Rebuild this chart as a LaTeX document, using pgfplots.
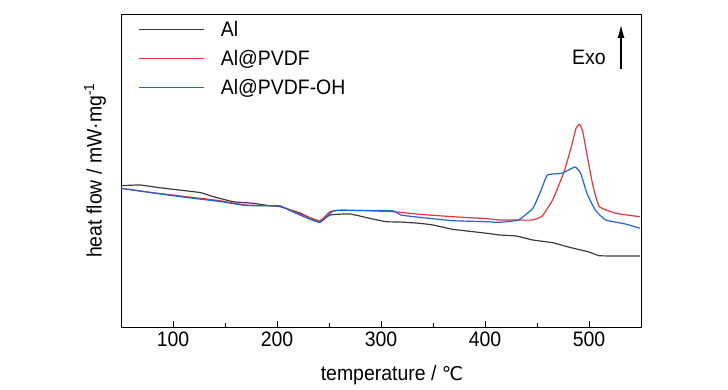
\documentclass[border=0pt]{standalone}
\usepackage{pgfplots}
\pgfplotsset{compat=1.18}
\usetikzlibrary{arrows.meta}
\usepackage{fontspec}
\setmainfont{Liberation Sans}[FakeStretch=0.93]
\newfontfamily\djv{DejaVu Sans}
\definecolor{cAl}{RGB}{60,60,60}
\definecolor{cRed}{RGB}{228,52,62}
\definecolor{cBlue}{RGB}{32,100,208}
\begin{document}
\begin{tikzpicture}
\path (-121bp,-63bp) rectangle (607bp,327bp);
\begin{axis}[
  scale only axis, width=520bp, height=313bp,
  xmin=50, xmax=550, ymin=-327, ymax=-14,
  xtick={100,200,300,400,500},
  minor xtick={150,250,350,450},
  ytick=\empty,
  xtick pos=bottom, tick align=inside,
  major tick length=6bp, minor tick length=4bp,
  axis line style={line width=0.9pt},
  every tick/.style={line width=0.8pt, black},
  /pgf/number format/assume math mode=true,
  ticklabel style={font=\fontsize{21}{24}\selectfont},
  xticklabel style={yshift=-1bp},
  xlabel={temperature / {\djv\fontsize{19}{22}\selectfont ℃}},
  ylabel={heat flow / mW·mg\textsuperscript{-1}},
  label style={font=\fontsize{21}{24}\selectfont},
  xlabel style={at={(axis description cs:0.5,0)}, anchor=center, yshift=-48bp, xshift=11bp},
  ylabel style={at={(axis description cs:0,0.5)}, anchor=center, yshift=26bp},
  legend style={at={(0,1)}, anchor=north west, draw=none, fill=none,
    font=\fontsize{21}{24}\selectfont, row sep=8.5bp, xshift=14bp, yshift=-3bp},
  legend cell align=left,
  legend image code/.code={\draw[#1, line width=1.3pt, sharp plot] (0bp,0bp) -- (65bp,0bp);
    \path[draw=none] (65bp,0bp) -- (80bp,0bp);},
  every axis plot/.append style={line width=1.2pt, smooth, tension=0.25},
]
\addplot[cAl] coordinates {
(50,-185.7) (68,-185) (87,-187.7) (114,-191) (127,-192.7) (139,-196.7) (158,-201.7)
(177,-203.3) (193,-205.7) (203,-206.7) (222,-213) (232,-218) (241,-222.3) (251,-215)
(270,-214) (289,-218.3) (305,-221.7) (318,-222) (337,-223.3) (350,-225) (369,-229.3)
(402,-233.3) (414,-235) (430,-236) (446,-240) (465,-242.7) (479,-246.7) (488,-249)
(500,-252) (510,-255.7) (530,-256) (549,-256)};
\addlegendentry{Al}
\addplot[cRed] coordinates {
(50,-188.3) (81,-192.7) (113,-196.7) (145,-200.7) (170,-205) (193,-205.7) (203,-206)
(222,-214) (241,-220.7) (251,-211.7) (263,-210) (311,-211.7) (337,-214.3) (369,-216.7)
(402,-218.7) (414,-220) (430,-220) (446,-220) (455,-216) (465,-200) (476,-171.7)
(483,-146.7) (487.5,-128.3) (491,-124.3) (494,-131.7) (499,-160) (504,-186.7)
(510,-206.7) (526,-213.3) (549,-216.7)};
\addlegendentry{Al@PVDF}
\addplot[cBlue] coordinates {
(50,-188.3) (81,-193) (113,-197.5) (145,-201.5) (170,-205.5) (193,-205.7) (203,-206)
(222,-215) (241,-222.3) (254,-211) (270,-210.5) (311,-210.7) (319,-215) (337,-217.3)
(369,-220.7) (402,-221.7) (414,-222.3) (432,-220) (446,-208.3) (454,-190) (460,-175)
(474,-173.3) (486.5,-167) (492,-173.3) (498,-193.3) (506,-210) (516,-220) (535,-224)
(549,-228.3)};
\addlegendentry{Al@PVDF-OH}
\draw[line width=1.1pt, -{Latex[length=13bp,width=7bp]}] (axis cs:530.8,-69) -- (axis cs:530.8,-25);
\node[font=\fontsize{21}{24}\selectfont] at (axis cs:500,-57) {Exo};
\end{axis}
\end{tikzpicture}
\end{document}
